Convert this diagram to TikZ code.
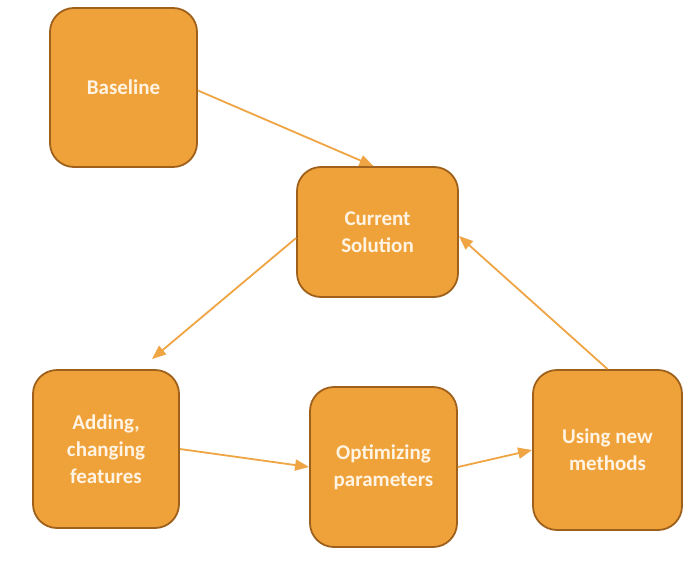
\documentclass[tikz,border=0pt]{standalone}
\usepackage{fontspec}
\setmainfont{Carlito}
\usetikzlibrary{arrows.meta}
\definecolor{boxfill}{HTML}{F0A23A}
\definecolor{boxedge}{HTML}{9E601A}
\definecolor{boxtext}{HTML}{FFF4E4}
\definecolor{arrowc}{HTML}{F0A545}
\tikzset{
  stepbox/.style={draw=boxedge, line width=1.8pt, fill=boxfill, rounded corners=24pt,
    text=boxtext, font=\fontsize{21}{27}\selectfont\bfseries, align=center,
    inner sep=0pt},
  flow/.style={draw=arrowc, line width=1.8pt, -{Triangle[length=14pt,width=11pt]}}
}
\begin{document}
\begin{tikzpicture}[x=1pt,y=-1pt]
\useasboundingbox[fill=white] (0,0) rectangle (700,583);
\node[stepbox, minimum width=147pt, minimum height=159pt] (base) at (123.5,87.5) {Baseline};
\node[stepbox, minimum width=161pt, minimum height=130pt] (cur) at (377.5,232) {Current\\Solution};
\node[stepbox, minimum width=146pt, minimum height=158pt] (add) at (106,449) {Adding,\\changing\\features};
\node[stepbox, minimum width=147pt, minimum height=160pt] (opt) at (383.5,467) {Optimizing\\parameters};
\node[stepbox, minimum width=149pt, minimum height=160pt] (use) at (607.5,450) {Using new\\methods};
\coordinate (addtip) at (152,359);
\draw[flow] ([yshift=-3pt]base.east) -- ([xshift=-4pt]cur.north);
\draw[flow] ([yshift=-6pt]cur.west) -- (addtip);
\draw[flow] (add.east) -- (opt.west);
\draw[flow] (opt.east) -- (use.west);
\draw[flow] (use.north) -- ([yshift=-4pt]cur.east);
\end{tikzpicture}
\end{document}
